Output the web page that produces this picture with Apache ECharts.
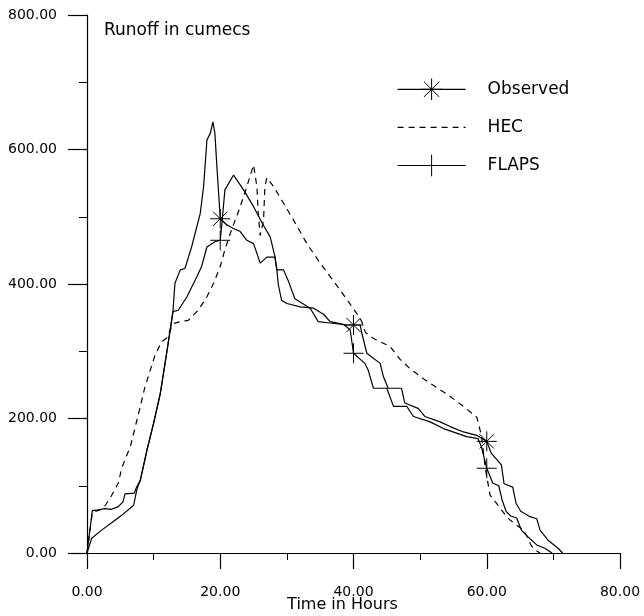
<!DOCTYPE html>
<html>
<head>
<meta charset="utf-8">
<title>Runoff in cumecs</title>
<script src="https://cdn.jsdelivr.net/npm/echarts@6/dist/echarts.min.js"></script>
<style>
  html, body { margin: 0; padding: 0; background: #fff; }
  #chart { width: 644px; height: 616px; }
</style>
</head>
<body>
<div id="chart"></div>
<script>
// hydrograph: hours -> runoff (cumecs)
const obsHours = [0, 0.8, 1.7, 2.7, 3.7, 4.7, 5.4, 5.7, 7.1, 7.4, 8, 9, 10, 11, 12, 12.9, 13.2, 14, 14.7, 15.7,
  17, 17.5, 18, 18.5, 18.9, 19.2, 19.5, 20, 21, 21.9, 23, 24, 25, 26, 27, 28.2, 28.5, 29.5, 30.2, 31.2,
  33.5, 34.7, 36.5, 39, 40, 41, 41.2, 42, 44, 44.5, 45.2, 47.2, 47.7, 49.7, 50.7, 53, 54.5, 56.5, 58.5, 60,
  60.7, 62.2, 62.6, 63.9, 64.4, 65.1, 66.5, 67.5, 68, 69.2, 70.7, 71.4]
const obsRunoff = [0, 63, 64, 66, 65, 69, 76, 88, 89, 97, 108, 153, 193, 237, 300, 359, 401, 421, 423, 455,
  505, 545, 614, 624, 641, 624, 574, 497, 488, 483, 478, 465, 460, 431, 440, 440, 421, 421, 405, 378,
  364, 344, 342, 339, 339, 339, 329, 297, 282, 262, 245, 245, 223, 215, 203, 195, 188, 180, 175, 166,
  148, 131, 103, 98, 74, 62, 54, 51, 34, 19, 7, 0]

const hecHours = [0, 0.8, 2.4, 3.5, 4.7, 5.2, 6, 6.5, 7, 8, 8.7, 9.5, 10.2, 11.2, 12, 12.9, 14, 15.2, 16, 16.7,
  18, 19, 20, 20.7, 21.5, 23, 24, 25, 25.5, 25.7, 26, 26.5, 26.7, 27, 28, 29.5, 31, 33, 35, 38,
  40.5, 41.2, 41.8, 43, 45.5, 47, 48.5, 50.5, 52.5, 54.5, 56.5, 58.5, 59.2, 59.8, 60.5, 61.7, 62.2, 63, 63.5, 65.5,
  66.2, 66.6, 67.2, 68]
const hecRunoff = [0, 60, 66, 82, 104, 126, 146, 158, 178, 218, 247, 272, 294, 314, 320, 341, 344, 346, 354, 361,
  381, 401, 426, 451, 475, 515, 545, 577, 545, 505, 472, 495, 545, 558, 545, 520, 495, 460, 431, 391,
  356, 345, 328, 319, 307, 288, 274, 259, 246, 233, 218, 202, 175, 125, 86, 71, 64, 54, 49, 34,
  22, 12, 5, 0]

const flapsHours = [0, 0.7, 2.2, 3.7, 5.2, 7, 7.5, 8, 9, 10, 11, 12, 12.9, 13.7, 15, 16.5, 17.2, 18, 19.2, 20,
  20.2, 20.7, 22, 23.5, 25, 26.5, 27.5, 28.2, 28.5, 28.7, 29.2, 30, 32, 34, 35.5, 36.5, 38.5, 39.5, 40, 41.7,
  42.2, 43, 45, 46, 48, 49, 51.5, 53.5, 57, 58.7, 59.2, 60, 60.9, 61.8, 62.3, 62.9, 63.6, 64.5, 65.2, 66.2,
  67.5, 68.7, 69.8]
const flapsRunoff = [0, 22, 34, 45, 56, 71, 95, 108, 153, 193, 237, 300, 359, 361, 381, 411, 426, 455, 463, 465,
  485, 540, 562, 540, 515, 487, 470, 441, 421, 400, 376, 371, 366, 364, 355, 344, 340, 332, 297, 282,
  272, 245, 245, 218, 218, 203, 195, 185, 173, 170, 158, 126, 104, 100, 79, 62, 55, 52, 34, 24,
  12, 7, 0]

// hours where the curves carry a marker
const markHours = [20, 40, 60]

const STAR = 'path://M0,-10L0,10M-7.07,-7.07L7.07,7.07M-10,0L10,0M-7.07,7.07L7.07,-7.07'
const PLUS = 'path://M0,-10L0,10M-10,0L10,0'
const FONT = 'DejaVu Sans'

function toData(hours, vals, marked) {
  return hours.map((h, i) => {
    const item = { value: [h, vals[i]] }
    if (!(marked && markHours.indexOf(h) > -1)) {
      item.symbol = 'none'
    }
    return item
  })
}

const chart = echarts.init(document.getElementById('chart'))

const axisCommon = {
  type: 'value',
  axisLine: { show: true, lineStyle: { color: '#000', width: 1.2 } },
  splitLine: { show: false },
  axisLabel: {
    color: '#000',
    fontFamily: FONT,
    fontSize: 14,
    formatter: v => v.toFixed(2)
  }
}

const option = {
  animation: false,
  backgroundColor: '#fff',
  title: {
    text: 'Runoff in cumecs',
    left: 104,
    top: 22,
    padding: 0,
    textStyle: { color: '#000', fontFamily: FONT, fontSize: 17, fontWeight: 'normal' }
  },
  legend: {
    orient: 'vertical',
    left: 397,
    top: 78,
    padding: 0,
    itemWidth: 68,
    itemHeight: 27,
    itemGap: 16,
    selectedMode: false,
    itemStyle: { borderWidth: 1 },
    lineStyle: { width: 1.2 },
    textStyle: { color: '#000', fontFamily: FONT, fontSize: 17, padding: [0, 0, 0, 17] },
    data: [
      { name: 'Observed' },
      { name: 'HEC', itemStyle: { opacity: 0 } },
      { name: 'FLAPS' }
    ]
  },
  // keep the plot box fixed, labels may sit outside it
  grid: { left: 87, right: 24, top: 15, bottom: 63, outerBoundsMode: 'none' },
  xAxis: Object.assign({}, axisCommon, {
    min: 0,
    max: 80,
    interval: 20,
    name: 'Time in Hours',
    nameLocation: 'middle',
    nameGap: 44,
    nameMoveOverlap: false,
    nameTextStyle: { color: '#000', fontFamily: FONT, fontSize: 16, padding: [0, 22, 0, 0] },
    axisTick: { length: 16, lineStyle: { color: '#000', width: 1.2 } },
    minorTick: { show: true, splitNumber: 2, length: 7, lineStyle: { color: '#000', width: 1 } },
    axisLabel: Object.assign({}, axisCommon.axisLabel, { margin: 32 })
  }),
  yAxis: Object.assign({}, axisCommon, {
    min: 0,
    max: 800,
    interval: 200,
    axisTick: { length: 19, lineStyle: { color: '#000', width: 1.2 } },
    minorTick: { show: true, splitNumber: 2, length: 8, lineStyle: { color: '#000', width: 1 } },
    axisLabel: Object.assign({}, axisCommon.axisLabel, { margin: 30 })
  }),
  series: [
    {
      name: 'Observed',
      type: 'line',
      color: '#000',
      data: toData(obsHours, obsRunoff, true),
      symbol: STAR,
      symbolSize: 20,
      symbolKeepAspect: true,
      lineStyle: { color: '#000', width: 1.2 },
      itemStyle: { color: '#000', borderColor: '#000', borderWidth: 1 },
      emphasis: { disabled: true },
      z: 4
    },
    {
      name: 'HEC',
      type: 'line',
      color: '#000',
      data: toData(hecHours, hecRunoff, false),
      symbol: 'none',
      lineStyle: { color: '#000', width: 1.2, type: [6, 5] },
      emphasis: { disabled: true },
      z: 2
    },
    {
      name: 'FLAPS',
      type: 'line',
      color: '#000',
      data: toData(flapsHours, flapsRunoff, true),
      symbol: PLUS,
      symbolSize: 20,
      symbolKeepAspect: true,
      lineStyle: { color: '#000', width: 1.2 },
      itemStyle: { color: '#000', borderColor: '#000', borderWidth: 1 },
      emphasis: { disabled: true },
      z: 3
    }
  ]
}

chart.setOption(option)
</script>
</body>
</html>
